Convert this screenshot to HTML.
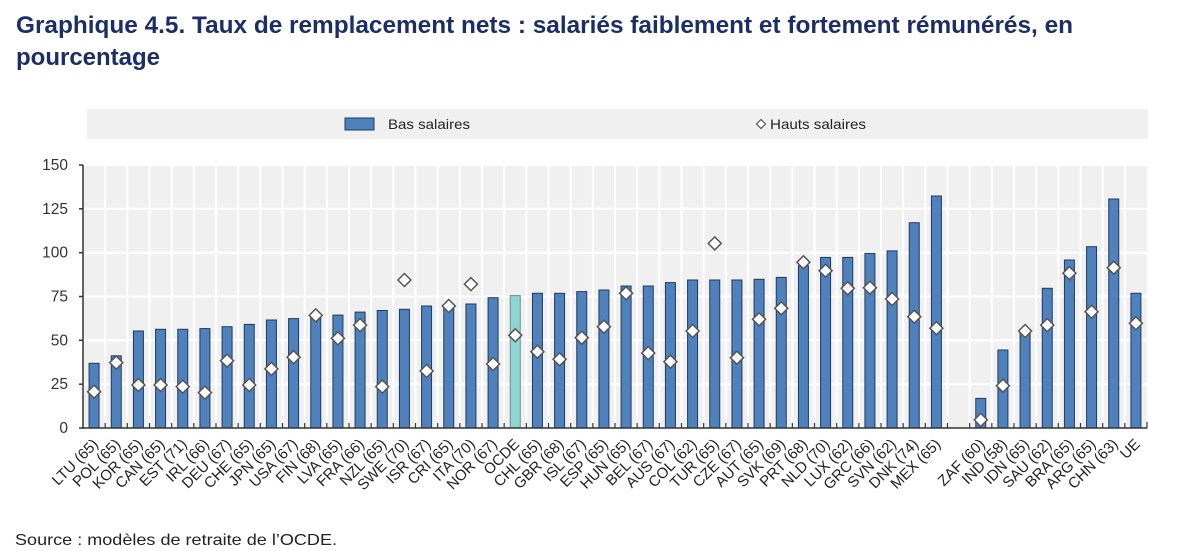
<!DOCTYPE html>
<html>
<head>
<meta charset="utf-8">
<style>
  html, body { margin:0; padding:0; background:#ffffff; }
  svg { display:block; }
  text { font-family: "Liberation Sans", Arial, sans-serif; }
</style>
</head>
<body>
<svg width="1200" height="551" viewBox="0 0 1200 551" xmlns="http://www.w3.org/2000/svg">
  <defs>
    <polygon id="dm" points="0,-6.5 6.5,0 0,6.5 -6.5,0" fill="#ffffff" stroke="#555555" stroke-width="1.5"/>
  </defs>
  <!-- Title -->
  <text x="16" y="33" font-size="24" font-weight="bold" fill="#1b2f66" textLength="1057" lengthAdjust="spacingAndGlyphs">Graphique 4.5. Taux de remplacement nets : salariés faiblement et fortement rémunérés, en</text>
  <text x="16" y="65" font-size="24" font-weight="bold" fill="#1b2f66">pourcentage</text>

  <!-- Legend -->
  <rect x="87" y="109" width="1061" height="30" fill="#f0f0f0"/>
  <rect x="345" y="118" width="29" height="12" fill="#4f81bd" stroke="#203a5c" stroke-width="1"/>
  <text x="388" y="129" font-size="14" fill="#222" textLength="82" lengthAdjust="spacingAndGlyphs">Bas salaires</text>
  <polygon points="761,119.5 765.5,124 761,128.5 756.5,124" fill="#fff" stroke="#555" stroke-width="1.2"/>
  <text x="770" y="129" font-size="14" fill="#222" textLength="96" lengthAdjust="spacingAndGlyphs">Hauts salaires</text>

  <!-- Plot background -->
  <rect x="83" y="165" width="1064" height="263" fill="#f0f0f0"/>
  <!-- Horizontal gridlines -->
  <g stroke="#ffffff" stroke-width="2">
    <line x1="83" y1="165" x2="1147" y2="165"/>
    <line x1="83" y1="208.8" x2="1147" y2="208.8"/>
    <line x1="83" y1="252.7" x2="1147" y2="252.7"/>
    <line x1="83" y1="296.5" x2="1147" y2="296.5"/>
    <line x1="83" y1="340.3" x2="1147" y2="340.3"/>
    <line x1="83" y1="384.2" x2="1147" y2="384.2"/>
  </g>
  <!-- Vertical gridlines -->
  <g stroke="#ffffff" stroke-width="2">
    <line x1="105.17" y1="165" x2="105.17" y2="428"/>
    <line x1="127.33" y1="165" x2="127.33" y2="428"/>
    <line x1="149.5" y1="165" x2="149.5" y2="428"/>
    <line x1="171.67" y1="165" x2="171.67" y2="428"/>
    <line x1="193.83" y1="165" x2="193.83" y2="428"/>
    <line x1="216" y1="165" x2="216" y2="428"/>
    <line x1="238.17" y1="165" x2="238.17" y2="428"/>
    <line x1="260.33" y1="165" x2="260.33" y2="428"/>
    <line x1="282.5" y1="165" x2="282.5" y2="428"/>
    <line x1="304.67" y1="165" x2="304.67" y2="428"/>
    <line x1="326.83" y1="165" x2="326.83" y2="428"/>
    <line x1="349" y1="165" x2="349" y2="428"/>
    <line x1="371.17" y1="165" x2="371.17" y2="428"/>
    <line x1="393.33" y1="165" x2="393.33" y2="428"/>
    <line x1="415.5" y1="165" x2="415.5" y2="428"/>
    <line x1="437.67" y1="165" x2="437.67" y2="428"/>
    <line x1="459.83" y1="165" x2="459.83" y2="428"/>
    <line x1="482" y1="165" x2="482" y2="428"/>
    <line x1="504.17" y1="165" x2="504.17" y2="428"/>
    <line x1="526.33" y1="165" x2="526.33" y2="428"/>
    <line x1="548.5" y1="165" x2="548.5" y2="428"/>
    <line x1="570.67" y1="165" x2="570.67" y2="428"/>
    <line x1="592.83" y1="165" x2="592.83" y2="428"/>
    <line x1="615" y1="165" x2="615" y2="428"/>
    <line x1="637.17" y1="165" x2="637.17" y2="428"/>
    <line x1="659.33" y1="165" x2="659.33" y2="428"/>
    <line x1="681.5" y1="165" x2="681.5" y2="428"/>
    <line x1="703.67" y1="165" x2="703.67" y2="428"/>
    <line x1="725.83" y1="165" x2="725.83" y2="428"/>
    <line x1="748" y1="165" x2="748" y2="428"/>
    <line x1="770.17" y1="165" x2="770.17" y2="428"/>
    <line x1="792.33" y1="165" x2="792.33" y2="428"/>
    <line x1="814.5" y1="165" x2="814.5" y2="428"/>
    <line x1="836.67" y1="165" x2="836.67" y2="428"/>
    <line x1="858.83" y1="165" x2="858.83" y2="428"/>
    <line x1="881" y1="165" x2="881" y2="428"/>
    <line x1="903.17" y1="165" x2="903.17" y2="428"/>
    <line x1="925.33" y1="165" x2="925.33" y2="428"/>
    <line x1="947.5" y1="165" x2="947.5" y2="428"/>
    <line x1="969.67" y1="165" x2="969.67" y2="428"/>
    <line x1="991.83" y1="165" x2="991.83" y2="428"/>
    <line x1="1014" y1="165" x2="1014" y2="428"/>
    <line x1="1036.17" y1="165" x2="1036.17" y2="428"/>
    <line x1="1058.33" y1="165" x2="1058.33" y2="428"/>
    <line x1="1080.5" y1="165" x2="1080.5" y2="428"/>
    <line x1="1102.67" y1="165" x2="1102.67" y2="428"/>
    <line x1="1124.83" y1="165" x2="1124.83" y2="428"/>
  </g>

  <!-- Bars -->
  <g fill="#4f81bd" stroke="#203a5c" stroke-width="1">
    <rect x="89.08" y="363.3" width="10" height="64.7"/>
    <rect x="111.25" y="355.8" width="10" height="72.2"/>
    <rect x="133.42" y="331.0" width="10" height="97.0"/>
    <rect x="155.58" y="329.3" width="10" height="98.7"/>
    <rect x="177.75" y="329.3" width="10" height="98.7"/>
    <rect x="199.92" y="328.6" width="10" height="99.4"/>
    <rect x="222.08" y="326.7" width="10" height="101.3"/>
    <rect x="244.25" y="324.4" width="10" height="103.6"/>
    <rect x="266.42" y="320.0" width="10" height="108.0"/>
    <rect x="288.58" y="318.6" width="10" height="109.4"/>
    <rect x="310.75" y="316.1" width="10" height="111.9"/>
    <rect x="332.92" y="315.1" width="10" height="112.9"/>
    <rect x="355.08" y="312.1" width="10" height="115.9"/>
    <rect x="377.25" y="310.5" width="10" height="117.5"/>
    <rect x="399.42" y="309.3" width="10" height="118.7"/>
    <rect x="421.58" y="306.0" width="10" height="122.0"/>
    <rect x="443.75" y="305.6" width="10" height="122.4"/>
    <rect x="465.92" y="304.0" width="10" height="124.0"/>
    <rect x="488.08" y="297.7" width="10" height="130.3"/>
    <rect x="532.42" y="293.3" width="10" height="134.7"/>
    <rect x="554.58" y="293.3" width="10" height="134.7"/>
    <rect x="576.75" y="291.6" width="10" height="136.4"/>
    <rect x="598.92" y="290.0" width="10" height="138.0"/>
    <rect x="621.08" y="286.0" width="10" height="142.0"/>
    <rect x="643.25" y="286.0" width="10" height="142.0"/>
    <rect x="665.42" y="282.6" width="10" height="145.4"/>
    <rect x="687.58" y="280.0" width="10" height="148.0"/>
    <rect x="709.75" y="280.0" width="10" height="148.0"/>
    <rect x="731.92" y="280.0" width="10" height="148.0"/>
    <rect x="754.08" y="279.3" width="10" height="148.7"/>
    <rect x="776.25" y="277.4" width="10" height="150.6"/>
    <rect x="798.42" y="265.8" width="10" height="162.2"/>
    <rect x="820.58" y="257.4" width="10" height="170.6"/>
    <rect x="842.75" y="257.4" width="10" height="170.6"/>
    <rect x="864.92" y="253.4" width="10" height="174.6"/>
    <rect x="887.08" y="250.9" width="10" height="177.1"/>
    <rect x="909.25" y="222.7" width="10" height="205.3"/>
    <rect x="931.42" y="196.0" width="10" height="232.0"/>
    <rect x="975.75" y="398.4" width="10" height="29.6"/>
    <rect x="997.92" y="350.0" width="10" height="78.0"/>
    <rect x="1020.08" y="332.4" width="10" height="95.6"/>
    <rect x="1042.25" y="288.3" width="10" height="139.7"/>
    <rect x="1064.42" y="260.0" width="10" height="168.0"/>
    <rect x="1086.58" y="246.7" width="10" height="181.3"/>
    <rect x="1108.75" y="199.0" width="10" height="229.0"/>
    <rect x="1130.92" y="293.3" width="10" height="134.7"/>
  </g>
  <!-- OCDE bar -->
  <rect x="510.25" y="295.6" width="10" height="132.4" fill="#8fd6d3" stroke="#6a8f8e" stroke-width="1"/>

  <!-- Diamonds (Hauts salaires) -->
  <g>
    <use href="#dm" x="94.08" y="391.7"/>
    <use href="#dm" x="116.25" y="362.6"/>
    <use href="#dm" x="138.42" y="385"/>
    <use href="#dm" x="160.58" y="385"/>
    <use href="#dm" x="182.75" y="386.6"/>
    <use href="#dm" x="204.92" y="392.6"/>
    <use href="#dm" x="227.08" y="360.7"/>
    <use href="#dm" x="249.25" y="385"/>
    <use href="#dm" x="271.42" y="368.9"/>
    <use href="#dm" x="293.58" y="357.2"/>
    <use href="#dm" x="315.75" y="315.4"/>
    <use href="#dm" x="337.92" y="338.4"/>
    <use href="#dm" x="360.08" y="325.1"/>
    <use href="#dm" x="382.25" y="386.6"/>
    <use href="#dm" x="404.42" y="280"/>
    <use href="#dm" x="426.58" y="371"/>
    <use href="#dm" x="448.75" y="306"/>
    <use href="#dm" x="470.92" y="284.1"/>
    <use href="#dm" x="493.08" y="364"/>
    <use href="#dm" x="515.25" y="335.3"/>
    <use href="#dm" x="537.42" y="351.7"/>
    <use href="#dm" x="559.58" y="359.3"/>
    <use href="#dm" x="581.75" y="337.7"/>
    <use href="#dm" x="603.92" y="326.7"/>
    <use href="#dm" x="626.08" y="293.3"/>
    <use href="#dm" x="648.25" y="353.1"/>
    <use href="#dm" x="670.42" y="361.7"/>
    <use href="#dm" x="692.58" y="331"/>
    <use href="#dm" x="714.75" y="243.4"/>
    <use href="#dm" x="736.92" y="357.7"/>
    <use href="#dm" x="759.08" y="319.3"/>
    <use href="#dm" x="781.25" y="308.3"/>
    <use href="#dm" x="803.42" y="262.3"/>
    <use href="#dm" x="825.58" y="270.7"/>
    <use href="#dm" x="847.75" y="288.3"/>
    <use href="#dm" x="869.92" y="287.7"/>
    <use href="#dm" x="892.08" y="299"/>
    <use href="#dm" x="914.25" y="316.7"/>
    <use href="#dm" x="936.42" y="328.2"/>
    <use href="#dm" x="980.75" y="419.9"/>
    <use href="#dm" x="1002.92" y="385.7"/>
    <use href="#dm" x="1025.08" y="331"/>
    <use href="#dm" x="1047.25" y="325.1"/>
    <use href="#dm" x="1069.42" y="273.2"/>
    <use href="#dm" x="1091.58" y="311.7"/>
    <use href="#dm" x="1113.75" y="267.7"/>
    <use href="#dm" x="1135.92" y="323.3"/>
  </g>

  <!-- Axes -->
  <g stroke="#333333" stroke-width="1.5" fill="none">
    <line x1="83" y1="165" x2="83" y2="428.7"/>
    <line x1="82.3" y1="428" x2="1147.5" y2="428"/>
    <line x1="79" y1="165" x2="83" y2="165"/>
    <line x1="79" y1="208.8" x2="83" y2="208.8"/>
    <line x1="79" y1="252.7" x2="83" y2="252.7"/>
    <line x1="79" y1="296.5" x2="83" y2="296.5"/>
    <line x1="79" y1="340.3" x2="83" y2="340.3"/>
    <line x1="79" y1="384.2" x2="83" y2="384.2"/>
    <line x1="79" y1="428" x2="83" y2="428"/>
  </g>
  <g stroke="#333333" stroke-width="1.2">
    <line x1="105.17" y1="423" x2="105.17" y2="428"/>
    <line x1="127.33" y1="423" x2="127.33" y2="428"/>
    <line x1="149.5" y1="423" x2="149.5" y2="428"/>
    <line x1="171.67" y1="423" x2="171.67" y2="428"/>
    <line x1="193.83" y1="423" x2="193.83" y2="428"/>
    <line x1="216" y1="423" x2="216" y2="428"/>
    <line x1="238.17" y1="423" x2="238.17" y2="428"/>
    <line x1="260.33" y1="423" x2="260.33" y2="428"/>
    <line x1="282.5" y1="423" x2="282.5" y2="428"/>
    <line x1="304.67" y1="423" x2="304.67" y2="428"/>
    <line x1="326.83" y1="423" x2="326.83" y2="428"/>
    <line x1="349" y1="423" x2="349" y2="428"/>
    <line x1="371.17" y1="423" x2="371.17" y2="428"/>
    <line x1="393.33" y1="423" x2="393.33" y2="428"/>
    <line x1="415.5" y1="423" x2="415.5" y2="428"/>
    <line x1="437.67" y1="423" x2="437.67" y2="428"/>
    <line x1="459.83" y1="423" x2="459.83" y2="428"/>
    <line x1="482" y1="423" x2="482" y2="428"/>
    <line x1="504.17" y1="423" x2="504.17" y2="428"/>
    <line x1="526.33" y1="423" x2="526.33" y2="428"/>
    <line x1="548.5" y1="423" x2="548.5" y2="428"/>
    <line x1="570.67" y1="423" x2="570.67" y2="428"/>
    <line x1="592.83" y1="423" x2="592.83" y2="428"/>
    <line x1="615" y1="423" x2="615" y2="428"/>
    <line x1="637.17" y1="423" x2="637.17" y2="428"/>
    <line x1="659.33" y1="423" x2="659.33" y2="428"/>
    <line x1="681.5" y1="423" x2="681.5" y2="428"/>
    <line x1="703.67" y1="423" x2="703.67" y2="428"/>
    <line x1="725.83" y1="423" x2="725.83" y2="428"/>
    <line x1="748" y1="423" x2="748" y2="428"/>
    <line x1="770.17" y1="423" x2="770.17" y2="428"/>
    <line x1="792.33" y1="423" x2="792.33" y2="428"/>
    <line x1="814.5" y1="423" x2="814.5" y2="428"/>
    <line x1="836.67" y1="423" x2="836.67" y2="428"/>
    <line x1="858.83" y1="423" x2="858.83" y2="428"/>
    <line x1="881" y1="423" x2="881" y2="428"/>
    <line x1="903.17" y1="423" x2="903.17" y2="428"/>
    <line x1="925.33" y1="423" x2="925.33" y2="428"/>
    <line x1="947.5" y1="423" x2="947.5" y2="428"/>
    <line x1="969.67" y1="423" x2="969.67" y2="428"/>
    <line x1="991.83" y1="423" x2="991.83" y2="428"/>
    <line x1="1014" y1="423" x2="1014" y2="428"/>
    <line x1="1036.17" y1="423" x2="1036.17" y2="428"/>
    <line x1="1058.33" y1="423" x2="1058.33" y2="428"/>
    <line x1="1080.5" y1="423" x2="1080.5" y2="428"/>
    <line x1="1102.67" y1="423" x2="1102.67" y2="428"/>
    <line x1="1124.83" y1="423" x2="1124.83" y2="428"/>
    <line x1="1147" y1="422" x2="1147" y2="428"/>
  </g>

  <!-- Y labels -->
  <g font-size="15.5" fill="#333" text-anchor="end">
    <text x="68" y="170">150</text>
    <text x="68" y="213.8">125</text>
    <text x="68" y="257.7">100</text>
    <text x="68" y="301.5">75</text>
    <text x="68" y="345.3">50</text>
    <text x="68" y="389.2">25</text>
    <text x="68" y="433">0</text>
  </g>

  <!-- X labels -->
  <g font-size="15" fill="#222" text-anchor="end">
    <text transform="translate(99.08,445) rotate(-45)">LTU (65)</text>
    <text transform="translate(121.25,445) rotate(-45)">POL (65)</text>
    <text transform="translate(143.42,445) rotate(-45)">KOR (65)</text>
    <text transform="translate(165.58,445) rotate(-45)">CAN (65)</text>
    <text transform="translate(187.75,445) rotate(-45)">EST (71)</text>
    <text transform="translate(209.92,445) rotate(-45)">IRL (66)</text>
    <text transform="translate(232.08,445) rotate(-45)">DEU (67)</text>
    <text transform="translate(254.25,445) rotate(-45)">CHE (65)</text>
    <text transform="translate(276.42,445) rotate(-45)">JPN (65)</text>
    <text transform="translate(298.58,445) rotate(-45)">USA (67)</text>
    <text transform="translate(320.75,445) rotate(-45)">FIN (68)</text>
    <text transform="translate(342.92,445) rotate(-45)">LVA (65)</text>
    <text transform="translate(365.08,445) rotate(-45)">FRA (66)</text>
    <text transform="translate(387.25,445) rotate(-45)">NZL (65)</text>
    <text transform="translate(409.42,445) rotate(-45)">SWE (70)</text>
    <text transform="translate(431.58,445) rotate(-45)">ISR (67)</text>
    <text transform="translate(453.75,445) rotate(-45)">CRI (65)</text>
    <text transform="translate(475.92,445) rotate(-45)">ITA (70)</text>
    <text transform="translate(498.08,445) rotate(-45)">NOR (67)</text>
    <text transform="translate(520.25,445) rotate(-45)">OCDE</text>
    <text transform="translate(542.42,445) rotate(-45)">CHL (65)</text>
    <text transform="translate(564.58,445) rotate(-45)">GBR (68)</text>
    <text transform="translate(586.75,445) rotate(-45)">ISL (67)</text>
    <text transform="translate(608.92,445) rotate(-45)">ESP (65)</text>
    <text transform="translate(631.08,445) rotate(-45)">HUN (65)</text>
    <text transform="translate(653.25,445) rotate(-45)">BEL (67)</text>
    <text transform="translate(675.42,445) rotate(-45)">AUS (67)</text>
    <text transform="translate(697.58,445) rotate(-45)">COL (62)</text>
    <text transform="translate(719.75,445) rotate(-45)">TUR (65)</text>
    <text transform="translate(741.92,445) rotate(-45)">CZE (67)</text>
    <text transform="translate(764.08,445) rotate(-45)">AUT (65)</text>
    <text transform="translate(786.25,445) rotate(-45)">SVK (69)</text>
    <text transform="translate(808.42,445) rotate(-45)">PRT (68)</text>
    <text transform="translate(830.58,445) rotate(-45)">NLD (70)</text>
    <text transform="translate(852.75,445) rotate(-45)">LUX (62)</text>
    <text transform="translate(874.92,445) rotate(-45)">GRC (66)</text>
    <text transform="translate(897.08,445) rotate(-45)">SVN (62)</text>
    <text transform="translate(919.25,445) rotate(-45)">DNK (74)</text>
    <text transform="translate(941.42,445) rotate(-45)">MEX (65)</text>
    <text transform="translate(985.75,445) rotate(-45)">ZAF (60)</text>
    <text transform="translate(1007.92,445) rotate(-45)">IND (58)</text>
    <text transform="translate(1030.08,445) rotate(-45)">IDN (65)</text>
    <text transform="translate(1052.25,445) rotate(-45)">SAU (62)</text>
    <text transform="translate(1074.42,445) rotate(-45)">BRA (65)</text>
    <text transform="translate(1096.58,445) rotate(-45)">ARG (65)</text>
    <text transform="translate(1118.75,445) rotate(-45)">CHN (63)</text>
    <text transform="translate(1140.92,445) rotate(-45)">UE</text>
  </g>

  <!-- Source -->
  <text x="15" y="545" font-size="16" fill="#222" textLength="322" lengthAdjust="spacingAndGlyphs">Source : modèles de retraite de l’OCDE.</text>
</svg>
</body>
</html>
